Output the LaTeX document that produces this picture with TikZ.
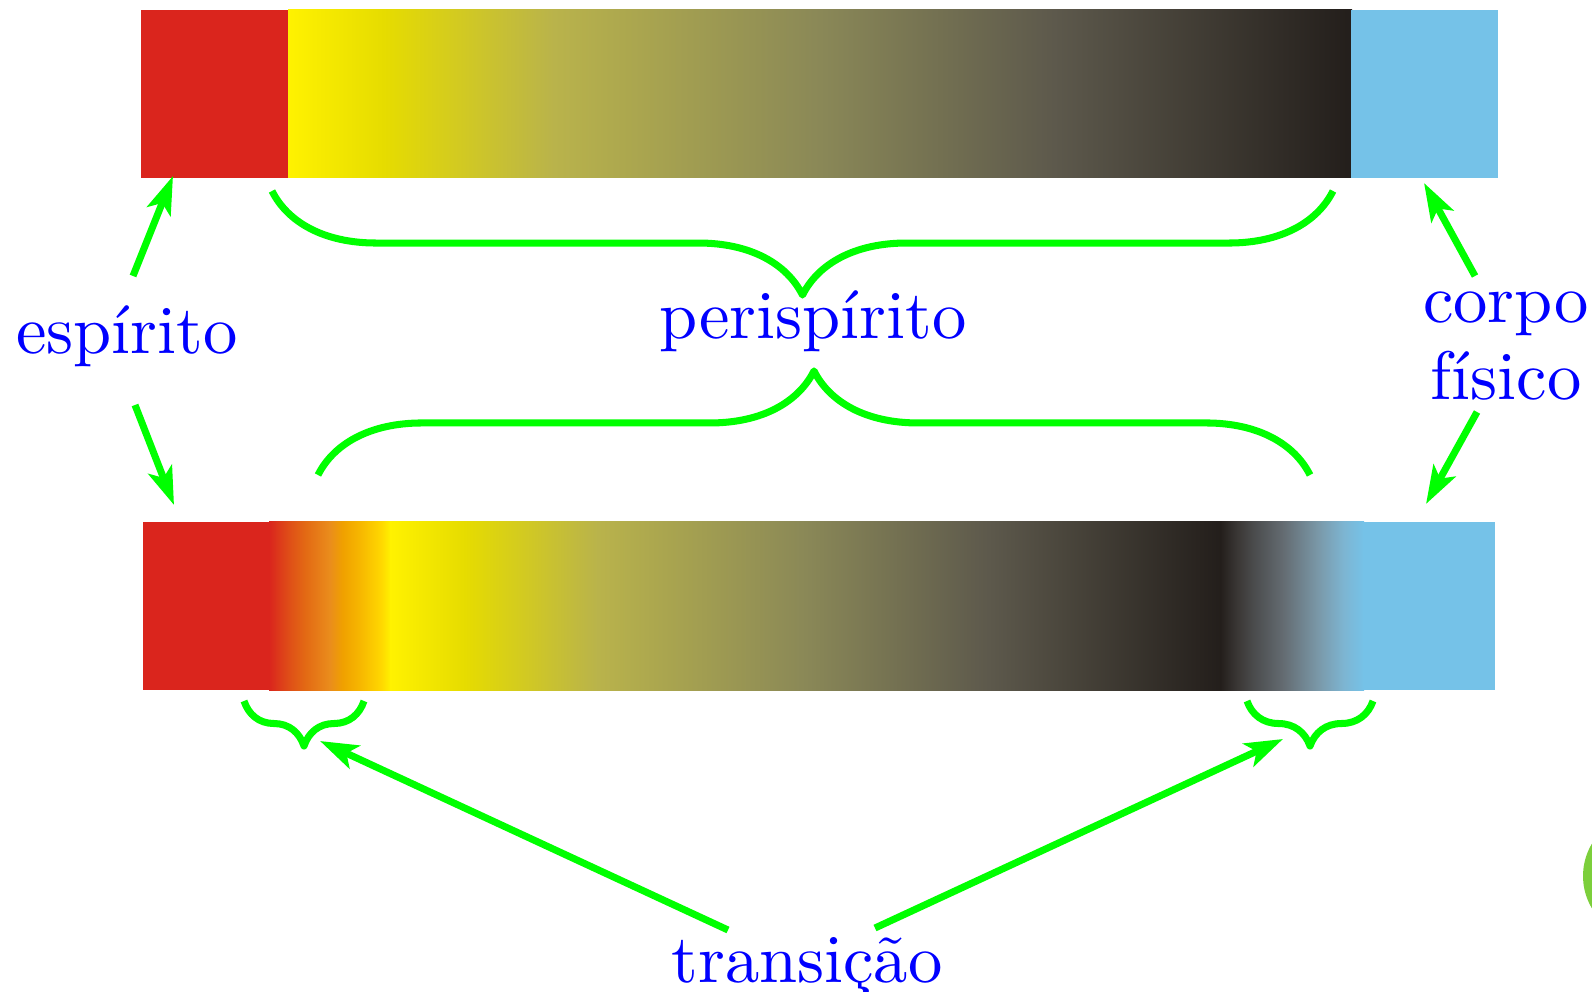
\documentclass[tikz,border=0pt]{standalone}
\usepackage{fontspec}
\setmainfont{lmroman10-regular.otf}
\usetikzlibrary{arrows.meta,decorations.pathreplacing}

\definecolor{espred}{HTML}{DA251D}
\definecolor{corpblue}{HTML}{75C2E8}
\definecolor{lgreen}{HTML}{00FF00}
\definecolor{blobgreen}{HTML}{7CCF3B}
\definecolor{pa}{HTML}{FFF200}
\definecolor{pb}{HTML}{E6DC00}
\definecolor{pc}{HTML}{B9B34B}
\definecolor{pd}{HTML}{8A8857}
\definecolor{pe}{HTML}{5D594C}
\definecolor{pf}{HTML}{231E1B}
\definecolor{ra}{HTML}{DF5017}
\definecolor{rb}{HTML}{E36A14}
\definecolor{rc}{HTML}{EA8D1C}
\definecolor{rd}{HTML}{F0A000}
\definecolor{re}{HTML}{F7B800}
\definecolor{rf}{HTML}{FFD800}
\definecolor{da}{HTML}{3A3735}
\definecolor{db}{HTML}{4A4B4C}
\definecolor{dc}{HTML}{646C72}
\definecolor{dd}{HTML}{7A98A8}
\definecolor{de}{HTML}{7DB5D2}

\pgfdeclarehorizontalshading{perishade}{100bp}{color(0bp)=(pa); color(25bp)=(pa); color(29.5bp)=(pb); color(37.5bp)=(pc); color(50bp)=(pd); color(61bp)=(pe); color(75bp)=(pf); color(100bp)=(pf)}
\pgfdeclarehorizontalshading{redshade}{100bp}{color(0bp)=(espred); color(25bp)=(espred); color(33.5bp)=(ra); color(40bp)=(rb); color(50bp)=(rc); color(55bp)=(rd); color(62.5bp)=(re); color(71bp)=(rf); color(75bp)=(pa); color(100bp)=(pa)}
\pgfdeclarehorizontalshading{darkshade}{100bp}{color(0bp)=(pf); color(25bp)=(pf); color(31bp)=(da); color(36.5bp)=(db); color(47bp)=(dc); color(59bp)=(dd); color(68bp)=(de); color(75bp)=(corpblue); color(100bp)=(corpblue)}

\begin{document}
\begin{tikzpicture}[x=0.01cm,y=-0.01cm,
	arr/.style={draw=lgreen, line width=2pt, -{Stealth[length=3.8mm,width=2.5mm,inset=0.9mm]}},
	brc/.style={draw=lgreen, line width=2pt, line join=round, decorate, decoration={brace,amplitude=#1}},
	brcm/.style={brc=#1, decoration={mirror}},
	lbl/.style={text=blue, font=\fontsize{19.5}{21.9}\selectfont, inner sep=0pt, anchor=base}]

	\useasboundingbox (0,0) rectangle (1592,992);

	% upper bar
	\fill[espred] (141,10) rectangle (289,178);
	\shade[shading=perishade] (288,10) rectangle (1352,178);
	\fill[corpblue] (1351,10) rectangle (1498,178);

	% lower bar
	\fill[espred] (143,522) rectangle (270,690);
	\shade[shading=redshade] (269,522) rectangle (391,690);
	\shade[shading=perishade] (390,522) rectangle (1221,690);
	\shade[shading=darkshade] (1220,522) rectangle (1364,690);
	\fill[corpblue] (1363,522) rectangle (1495,690);

	\fill[blobgreen] (1646,876) circle (63);

	\node[lbl] (espirito) at (127,354) {espírito};
	\node[lbl] (peri) at (813,339) {perispírito};
	\node[lbl, align=center] (corpo) at (1506,400) {corpo\\físico};
	\node[lbl] (trans) at (807,982) {transição};

	\coordinate (red top) at (173,176);
	\coordinate (red bot) at (174,505);
	\coordinate (blue top) at (1424,183);
	\coordinate (blue bot) at (1426,504);
	\coordinate (trans l) at (320,741);
	\coordinate (trans r) at (1283,739);
	\coordinate (esp a) at (133,276);
	\coordinate (esp b) at (135,405);
	\coordinate (corpo a) at (1475,276);
	\coordinate (corpo b) at (1477,412);
	\coordinate (trans a) at (728,930);
	\coordinate (trans b) at (875,928);

	\draw[brcm=10.4mm] (272,191) -- (1333,191);
	\draw[brc=10.4mm] (318,475) -- (1310,475);
	\draw[brcm=4.5mm] (244,701) -- (364,701);
	\draw[brcm=4.5mm] (1247,701) -- (1373,701);

	\draw[arr] (esp a) -- (red top);
	\draw[arr] (esp b) -- (red bot);
	\draw[arr] (corpo a) -- (blue top);
	\draw[arr] (corpo b) -- (blue bot);
	\draw[arr] (trans a) -- (trans l);
	\draw[arr] (trans b) -- (trans r);
\end{tikzpicture}
\end{document}
